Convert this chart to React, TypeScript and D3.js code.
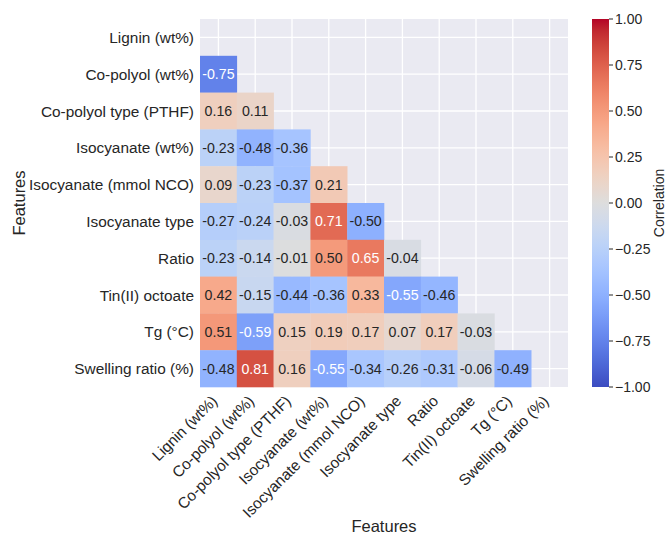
import React from "react";
import * as d3 from "d3";

const features = [
  "Lignin (wt%)",
  "Co-polyol (wt%)",
  "Co-polyol type (PTHF)",
  "Isocyanate (wt%)",
  "Isocyanate (mmol NCO)",
  "Isocyanate type",
  "Ratio",
  "Tin(II) octoate",
  "Tg (°C)",
  "Swelling ratio (%)",
];

// lower triangle of the correlation matrix (row i holds columns 0..i-1)
const corrRows: number[][] = [
  [],
  [-0.75],
  [0.16, 0.11],
  [-0.23, -0.48, -0.36],
  [0.09, -0.23, -0.37, 0.21],
  [-0.27, -0.24, -0.03, 0.71, -0.5],
  [-0.23, -0.14, -0.01, 0.5, 0.65, -0.04],
  [0.42, -0.15, -0.44, -0.36, 0.33, -0.55, -0.46],
  [0.51, -0.59, 0.15, 0.19, 0.17, 0.07, 0.17, -0.03],
  [-0.48, 0.81, 0.16, -0.55, -0.34, -0.26, -0.31, -0.06, -0.49],
];

const colorbarTicks = [1, 0.75, 0.5, 0.25, 0, -0.25, -0.5, -0.75, -1];

// matplotlib "coolwarm" colormap definition
const cwR = [0.2298057, 0.26623388, 0.30386891, 0.342804478, 0.38301334, 0.424369608, 0.46666708, 0.509635204, 0.552953156, 0.596262162, 0.639176211, 0.681291281, 0.722193294, 0.761464949, 0.798691636, 0.833466556, 0.865395197, 0.897787179, 0.924127593, 0.944468518, 0.958852946, 0.96732803, 0.969954137, 0.966811177, 0.958003065, 0.943660866, 0.923944917, 0.89904617, 0.869186849, 0.834620542, 0.795631745, 0.752534934, 0.705673158];
const cwG = [0.298717966, 0.353094838, 0.406535296, 0.458757618, 0.50941904, 0.558148092, 0.604562568, 0.648280772, 0.688929332, 0.726149107, 0.759599947, 0.788964712, 0.813952739, 0.834302879, 0.849786142, 0.860207984, 0.86541021, 0.848937047, 0.827384882, 0.800927443, 0.769767752, 0.734132809, 0.694266682, 0.650421156, 0.602842431, 0.551750968, 0.49730856, 0.439559467, 0.378313092, 0.312874446, 0.24128379, 0.157246067, 0.01555616];
const cwB = [0.753683153, 0.801466763, 0.84495867, 0.883725899, 0.917387822, 0.945619588, 0.968154911, 0.98478814, 0.995375608, 0.999836203, 0.998151185, 0.990363227, 0.976574709, 0.956945269, 0.931688648, 0.901068838, 0.865395561, 0.820880546, 0.774508472, 0.726736146, 0.678007945, 0.628751763, 0.579375448, 0.530263762, 0.481775914, 0.434243684, 0.387970225, 0.343229596, 0.300267182, 0.259301199, 0.220525627, 0.184115123, 0.150232812];

const cwColors = cwR.map((r, i) => d3.rgb(r * 255, cwG[i] * 255, cwB[i] * 255).formatHex());
const cwDomain = cwR.map((_, i) => -1 + (2 * i) / (cwR.length - 1));
const color = d3.scaleLinear<string>().domain(cwDomain).range(cwColors).clamp(true);

function textColor(c: string) {
  const rgb = d3.rgb(c);
  const lin = (v: number) => {
    const s = v / 255;
    return s <= 0.03928 ? s / 12.92 : Math.pow((s + 0.055) / 1.055, 2.4);
  };
  const l = 0.2126 * lin(rgb.r) + 0.7152 * lin(rgb.g) + 0.0722 * lin(rgb.b);
  return l > 0.408 ? "#262626" : "#ffffff";
}

const W = 667;
const H = 534;
const left = 200;
const right = 568;
const top = 19;
const bottom = 387;
const cbLeft = 592;
const cbRight = 609;
const FONT = "'Liberation Sans', Arial, Helvetica, sans-serif";
const TXT = "#262626";

export default function App() {
  const x = d3.scaleBand<string>().domain(features).range([left, right]);
  const y = d3.scaleBand<string>().domain(features).range([top, bottom]);
  const cb = d3.scaleLinear().domain([-1, 1]).range([bottom, top]);
  const bw = x.bandwidth();
  const bh = y.bandwidth();

  const cells: { r: number; c: number; v: number }[] = [];
  corrRows.forEach((row, r) => row.forEach((v, c) => cells.push({ r, c, v })));

  const fmt = (v: number) => {
    const s = d3.format(".2f")(Math.abs(v));
    return v < 0 ? "-" + s : s;
  };
  const fmtCb = (v: number) => {
    const s = d3.format(".2f")(Math.abs(v));
    return v < 0 ? "\u2212" + s : s;
  };

  const gradStops = d3.range(0, 65).map((i) => i / 64);

  return (
    <svg
      width={W}
      height={H}
      style={{ position: "absolute", left: 0, top: 0, background: "#fff" }}
      fontFamily={FONT}
    >
      <defs>
        <linearGradient id="cbgrad" x1="0" y1="1" x2="0" y2="0">
          {gradStops.map((t) => (
            <stop key={t} offset={t} stopColor={color(-1 + 2 * t)} />
          ))}
        </linearGradient>
      </defs>

      {/* axes background */}
      <rect x={left} y={top} width={right - left} height={bottom - top} fill="#EAEAF2" />
      {features.map((f) => (
        <line
          key={"gx" + f}
          x1={x(f)! + bw / 2}
          x2={x(f)! + bw / 2}
          y1={top}
          y2={bottom}
          stroke="#fff"
          strokeWidth={1.3}
        />
      ))}
      {features.map((f) => (
        <line
          key={"gy" + f}
          y1={y(f)! + bh / 2}
          y2={y(f)! + bh / 2}
          x1={left}
          x2={right}
          stroke="#fff"
          strokeWidth={1.3}
        />
      ))}

      {/* cells */}
      {cells.map(({ r, c, v }) => (
        <rect
          key={`c${r}-${c}`}
          x={x(features[c])!}
          y={y(features[r])!}
          width={bw + 0.3}
          height={bh + 0.3}
          fill={color(v)}
        />
      ))}
      {cells.map(({ r, c, v }) => (
        <text
          key={`t${r}-${c}`}
          x={x(features[c])! + bw / 2}
          y={y(features[r])! + bh / 2}
          textAnchor="middle"
          dominantBaseline="central"
          fontSize={14.2}
          fill={textColor(color(v))}
        >
          {fmt(v)}
        </text>
      ))}

      {/* y tick labels */}
      {features.map((f) => (
        <text
          key={"yl" + f}
          x={left - 6}
          y={y(f)! + bh / 2}
          textAnchor="end"
          dominantBaseline="central"
          fontSize={15.4}
          fill={TXT}
        >
          {f}
        </text>
      ))}

      {/* x tick labels */}
      {features.map((f) => (
        <text
          key={"xl" + f}
          transform={`translate(${x(f)! + bw / 2},${402}) rotate(-45)`}
          textAnchor="end"
          fontSize={15.4}
          fill={TXT}
        >
          {f}
        </text>
      ))}

      {/* axis labels */}
      <text x={(left + right) / 2} y={532} textAnchor="middle" fontSize={16.5} fill={TXT}>
        Features
      </text>
      <text
        transform={`translate(25,${(top + bottom) / 2}) rotate(-90)`}
        textAnchor="middle"
        fontSize={16.5}
        fill={TXT}
      >
        Features
      </text>

      {/* colorbar */}
      <rect x={cbLeft} y={top} width={cbRight - cbLeft} height={bottom - top} fill="url(#cbgrad)" />
      {colorbarTicks.map((t) => (
        <g key={"cb" + t}>
          <line x1={cbRight} x2={cbRight + 4} y1={cb(t)} y2={cb(t)} stroke={TXT} strokeWidth={1} />
          <text
            x={cbRight + 6}
            y={cb(t)}
            dominantBaseline="central"
            fontSize={14}
            fill={TXT}
          >
            {fmtCb(t)}
          </text>
        </g>
      ))}
      <text
        transform={`translate(664,${(top + bottom) / 2}) rotate(-90)`}
        textAnchor="middle"
        fontSize={14}
        fill={TXT}
      >
        Correlation
      </text>
    </svg>
  );
}
